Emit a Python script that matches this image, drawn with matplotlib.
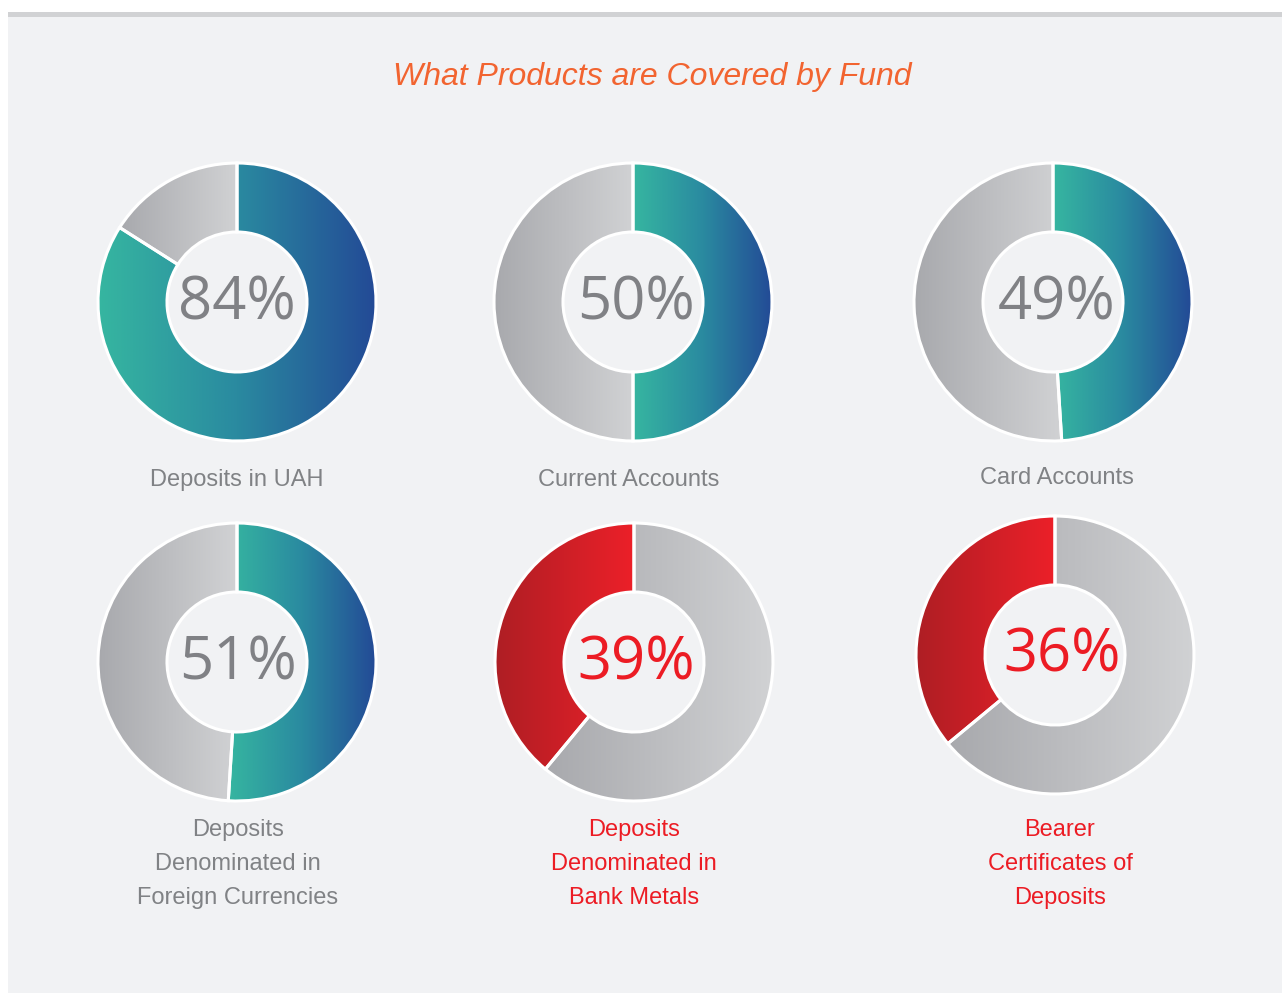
import numpy as np
import matplotlib
matplotlib.use("Agg")
import matplotlib.pyplot as plt
from matplotlib.colors import LinearSegmentedColormap
from matplotlib.patches import Rectangle

# data
products = ["Deposits in UAH", "Current Accounts", "Card Accounts",
            "Deposits\nDenominated in\nForeign Currencies",
            "Deposits\nDenominated in\nBank Metals",
            "Bearer\nCertificates of\nDeposits"]
covered = [84, 50, 49, 51, 39, 36]
highlight = [False, False, False, False, True, True]

title = "What Products are Covered by Fund"

W, H = 1282, 994
BG = "#f1f2f4"
GRAY_TXT = "#808285"
RED_TXT = "#ec1c24"

teal_blue = LinearSegmentedColormap.from_list("tb", ["#36b6a0", "#2a8aa0", "#234a96"])
greys = LinearSegmentedColormap.from_list("gr", ["#a8a9ad", "#d1d2d4"])
reds = LinearSegmentedColormap.from_list("rd", ["#ae1e24", "#ec2029"])

# layout in pixels
centers = [(237, 302), (633, 302), (1053, 302), (237, 662), (634, 662), (1055, 655)]
pct_pos = [(237, 304), (636, 303), (1057, 303), (238, 663), (636, 663), (1062, 656)]
label_pos = [(237, 480), (629, 480), (1057, 478), (238, 864), (634, 864), (1060, 864)]
R = 139
HOLE = 70

fig = plt.figure(figsize=(W / 100, H / 100), dpi=100)
fig.patch.set_facecolor("white")

bg = fig.add_axes([0, 0, 1, 1])
bg.set_xlim(0, W)
bg.set_ylim(H, 0)
bg.axis("off")
bg.add_patch(Rectangle((8, 12), W - 8, H - 13, facecolor=BG, edgecolor="none"))
bg.add_patch(Rectangle((8, 12), W - 8, 5, facecolor="#d1d2d4", edgecolor="none"))
bg.text(652, 77, title, ha="center", va="center", fontsize=23, style="italic",
        color="#f26430", family=["Liberation Sans", "DejaVu Sans"])

grad = np.linspace(0, 1, 256).reshape(1, -1)

for i, (name, p, hl) in enumerate(zip(products, covered, highlight)):
    cx, cy = centers[i]
    pad = R * 1.03
    ax = fig.add_axes([(cx - pad) / W, 1 - (cy + pad) / H, 2 * pad / W, 2 * pad / H])
    ax.axis("off")
    wedges, _ = ax.pie([p, 100 - p], radius=1, startangle=90, counterclock=hl,
                       wedgeprops=dict(width=(R - HOLE) / R, edgecolor="white",
                                       linewidth=2.2, facecolor="none"))
    cmaps = [reds if hl else teal_blue, greys]
    for w, cm in zip(wedges, cmaps):
        w.set_facecolor("none")
        w.set_zorder(3)
        ext = w.get_path().get_extents()
        im = ax.imshow(grad, cmap=cm, extent=(ext.x0, ext.x1, ext.y0, ext.y1),
                       aspect="auto", zorder=2, interpolation="bilinear")
        im.set_clip_path(w)
    ax.set_xlim(-1.03, 1.03)
    ax.set_ylim(-1.03, 1.03)
    ax.set_aspect("equal")

    px, py = pct_pos[i]
    bg.text(px, py, f"{p}%", ha="center", va="center", fontsize=43,
            family="Open Sans", color=RED_TXT if hl else "#808185")
    lx, ly = label_pos[i]
    bg.text(lx, ly, name, ha="center", va="center", fontsize=17,
            family="Liberation Sans", color=RED_TXT if hl else GRAY_TXT,
            linespacing=1.68)

fig.savefig("out.png", dpi=100, facecolor=fig.get_facecolor())
